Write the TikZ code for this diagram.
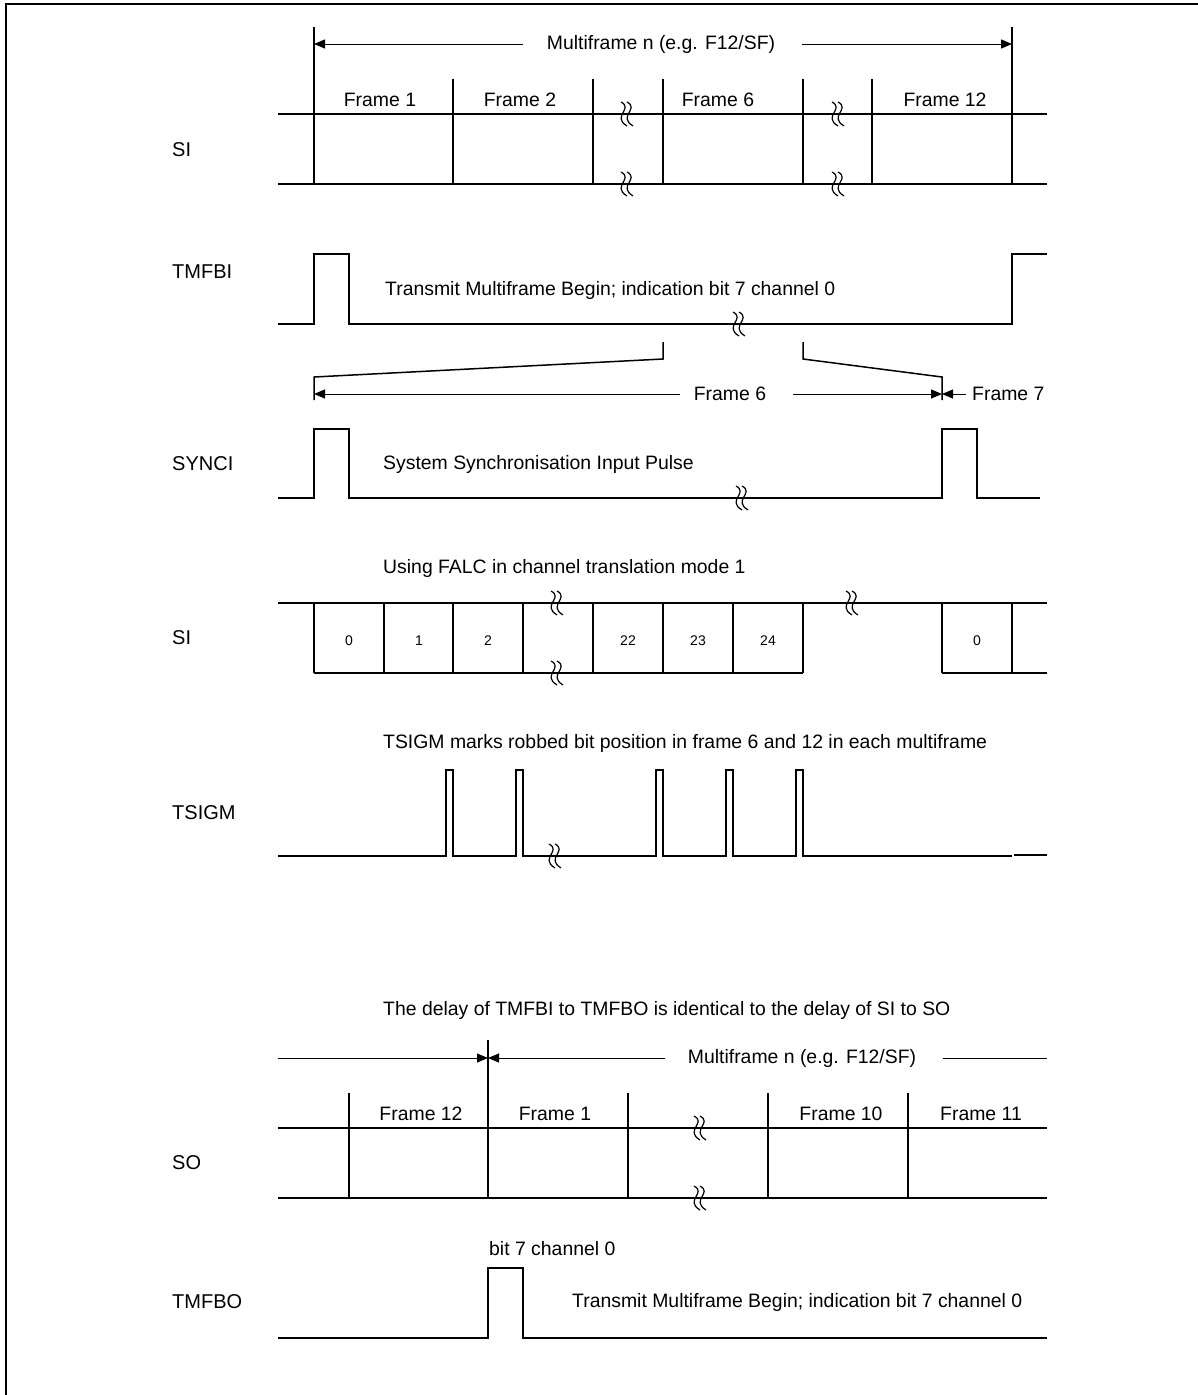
\documentclass[tikz,border=0pt]{standalone}
\usepackage{fontspec}
\setmainfont{Liberation Sans}
\usetikzlibrary{arrows.meta}
\begin{document}
\begin{tikzpicture}[x=1pt,y=-1pt,
  sig/.style={line width=1.5pt},
  dim/.style={line width=1pt},
  txt/.style={inner sep=0pt,font=\fontsize{19.4}{23}\selectfont},
  lbl/.style={inner sep=0pt,anchor=west,font=\fontsize{20}{24}\selectfont},
  dig/.style={inner sep=0pt,font=\fontsize{14}{17}\selectfont},
  tip/.style={-{Triangle[length=11pt,width=9pt]}},
  brk/.pic={
    \draw[line width=1.2pt] (-4,-12) .. controls (9,-5) and (-14,2) .. (2,12);
    \draw[line width=1.2pt] (2,-12) .. controls (15,-5) and (-8,2) .. (8,12);
  }
]
\useasboundingbox (0,0) rectangle (1198,1395);
\draw[line width=2pt] (6,1395) -- (6,4) -- (1198,4);

% ---------- labels ----------
\node[lbl] (lSI) at (172,150) {SI};
\node[lbl] (lTMFBI) at (172,272) {TMFBI};
\node[lbl] (lSYNCI) at (172,464) {SYNCI};
\node[lbl] (lSI2) at (172,638) {SI};
\node[lbl] (lTSIGM) at (172,813) {TSIGM};
\node[lbl] (lSO) at (172,1163) {SO};
\node[lbl] (lTMFBO) at (172,1302) {TMFBO};

% ---------- top SI ----------
\coordinate (mL) at (314,44);
\coordinate (mR) at (1012,44);
\node[txt] (mf1) at (661,44) {Multiframe n (e.g. F12/SF)};
\draw[dim,tip] (523,44) -- (mL);
\draw[dim,tip] (802,44) -- (mR);
\draw[sig] (278,114) -- (1047,114);
\draw[sig] (278,184) -- (1047,184);
\draw[sig] (314,27) -- (314,184);
\draw[sig] (1012,27) -- (1012,184);
\foreach \x in {453,593,663,803,872} \draw[sig] (\x,79) -- (\x,184);
\node[txt] (f1) at (380,100) {Frame 1};
\node[txt] (f2) at (520,100) {Frame 2};
\node[txt] (f6) at (718,100) {Frame 6};
\node[txt] (f12) at (945,100) {Frame 12};
\pic at (625,114) {brk};
\pic at (625,184) {brk};
\pic at (836,114) {brk};
\pic at (836,184) {brk};

% ---------- TMFBI ----------
\draw[sig] (278,324) -- (314,324) -- (314,254) -- (349,254) -- (349,324) -- (1012,324) -- (1012,254) -- (1047,254);
\node[txt,anchor=west] (tmb1) at (385,290) {Transmit Multiframe Begin; indication bit 7 channel 0};
\pic at (737,324) {brk};
\draw[sig] (663,342) -- (663,359) -- (314,377) -- (314,400);
\draw[sig] (803,342) -- (803,359) -- (942,377) -- (942,400);

% ---------- Frame 6 / Frame 7 ----------
\coordinate (f6L) at (314,394);
\coordinate (f6R) at (942,394);
\node[txt] (f6t) at (730,394) {Frame 6};
\draw[dim,tip] (680,394) -- (f6L);
\draw[dim,tip] (793,394) -- (f6R);
\draw[dim,tip] (966,394) -- (f6R);
\node[txt,anchor=west] (f7t) at (972,394) {Frame 7};

% ---------- SYNCI ----------
\draw[sig] (278,498) -- (314,498) -- (314,429) -- (349,429) -- (349,498) -- (942,498) -- (942,429) -- (977,429) -- (977,498) -- (1040,498);
\node[txt,anchor=west] (syt) at (383,464) {System Synchronisation Input Pulse};
\pic at (740,498) {brk};

% ---------- SI channels ----------
\node[txt,anchor=west] (falc) at (383,568) {Using FALC in channel translation mode 1};
\draw[sig] (278,603) -- (1047,603);
\draw[sig] (314,673) -- (803,673);
\draw[sig] (942,673) -- (1047,673);
\foreach \x in {314,384,453,523,593,663,733,803,942,1012} \draw[sig] (\x,603) -- (\x,673);
\node[dig] (c0) at (349,641) {0};
\node[dig] (c1) at (419,641) {1};
\node[dig] (c2) at (488,641) {2};
\node[dig] (c22) at (628,641) {22};
\node[dig] (c23) at (698,641) {23};
\node[dig] (c24) at (768,641) {24};
\node[dig] (c0b) at (977,641) {0};
\pic at (555,603) {brk};
\pic at (555,673) {brk};
\pic at (850,603) {brk};

% ---------- TSIGM ----------
\node[txt,anchor=west] (tst) at (383,743) {TSIGM marks robbed bit position in frame 6 and 12 in each multiframe};
\draw[sig] (278,856) -- (446,856) -- (446,770) -- (453,770) -- (453,856)
  -- (516,856) -- (516,770) -- (523,770) -- (523,856)
  -- (656,856) -- (656,770) -- (663,770) -- (663,856)
  -- (726,856) -- (726,770) -- (733,770) -- (733,856)
  -- (796,856) -- (796,770) -- (803,770) -- (803,856) -- (1012,856);
\draw[sig] (1014,855) -- (1047,855);
\pic at (553,856) {brk};

% ---------- SO ----------
\node[txt,anchor=west] (dly) at (383,1010) {The delay of TMFBI to TMFBO is identical to the delay of SI to SO};
\coordinate (mB) at (488,1058);
\draw[dim,tip] (278,1058) -- (mB);
\draw[dim,tip] (665,1058) -- (mB);
\node[txt] (mf2) at (802,1058) {Multiframe n (e.g. F12/SF)};
\draw[dim] (943,1058) -- (1047,1058);
\draw[sig] (488,1040) -- (488,1198);
\draw[sig] (278,1128) -- (1047,1128);
\draw[sig] (278,1198) -- (1047,1198);
\foreach \x in {349,628,768,908} \draw[sig] (\x,1093) -- (\x,1198);
\node[txt] (g12) at (421,1114) {Frame 12};
\node[txt] (g1) at (555,1114) {Frame 1};
\node[txt] (g10) at (841,1114) {Frame 10};
\node[txt] (g11) at (981,1114) {Frame 11};
\pic at (698,1128) {brk};
\pic at (698,1198) {brk};

% ---------- TMFBO ----------
\node[txt,anchor=west] (b7) at (489,1249) {bit 7 channel 0};
\draw[sig] (278,1338) -- (488,1338) -- (488,1268) -- (523,1268) -- (523,1338) -- (1047,1338);
\node[txt,anchor=west] (tmb2) at (572,1302) {Transmit Multiframe Begin; indication bit 7 channel 0};
\end{tikzpicture}
\end{document}
